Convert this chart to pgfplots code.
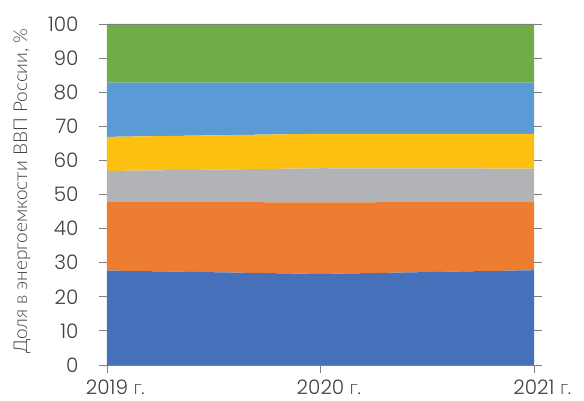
\documentclass[border=0pt]{standalone}
\usepackage{pgfplots}
\pgfplotsset{compat=1.18}
\usepackage{fontspec}
\setmainfont{Lato Light}
\newfontfamily\numfont{Poppins Light}

\definecolor{cBlue}{HTML}{4671BA}
\definecolor{cOrange}{HTML}{ED7D31}
\definecolor{cGray}{HTML}{B1B3B6}
\definecolor{cYellow}{HTML}{FDC010}
\definecolor{cLight}{HTML}{5B9BD5}
\definecolor{cGreen}{HTML}{70AD47}
\definecolor{cText}{HTML}{404040}
\definecolor{cAxis}{HTML}{7F7F7F}

\begin{document}
\begin{tikzpicture}
\begin{axis}[
  name=ax,
  scale only axis,
  width=427pt, height=341pt,
  xmin=2019, xmax=2021,
  ymin=0, ymax=100,
  stack plots=y,
  area style,
  axis on top,
  separate axis lines,
  every outer x axis line/.append style={draw=cAxis, line width=0.8pt},
  every outer y axis line/.append style={draw=none},
  xtick={2019,2020,2021},
  xticklabels={2019\rlap{ \rmfamily г.},2020\rlap{ \rmfamily г.},2021\rlap{ \rmfamily г.}},
  ytick={0,10,...,100},
  xtick pos=bottom,
  ytick pos=both,
  tick align=outside,
  major tick length=8pt,
  tick style={draw=cAxis, line width=0.8pt},
  /pgf/number format/assume math mode=true,
  ticklabel style={font=\numfont\fontsize{20}{20}\selectfont, text=cText},
  yticklabel style={xshift=-17pt},
  xticklabel style={yshift=-3pt},
  ylabel={Доля в энергоемкости ВВП России, \%},
  every axis y label/.style={at={(axis description cs:-0.199,0.51)}, rotate=90, anchor=center,
    font=\fontsize{19}{19}\selectfont, text=cText},
  every axis plot/.append style={draw=none},
]
\addplot[fill=cBlue] coordinates {(2019,27.7) (2020,26.7) (2021,27.8)} \closedcycle;
\addplot[fill=cOrange] coordinates {(2019,20.1) (2020,21.0) (2021,20.0)} \closedcycle;
\addplot[fill=cGray] coordinates {(2019,9.1) (2020,10.0) (2021,9.8)} \closedcycle;
\addplot[fill=cYellow] coordinates {(2019,10.0) (2020,10.1) (2021,10.2)} \closedcycle;
\addplot[fill=cLight] coordinates {(2019,15.9) (2020,15.0) (2021,15.0)} \closedcycle;
\addplot[fill=cGreen] coordinates {(2019,17.2) (2020,17.2) (2021,17.2)} \closedcycle;
\end{axis}
\path ([shift={(-107pt,-36pt)}]ax.south west) rectangle ([shift={(50pt,24pt)}]ax.north east);
\end{tikzpicture}
\end{document}
